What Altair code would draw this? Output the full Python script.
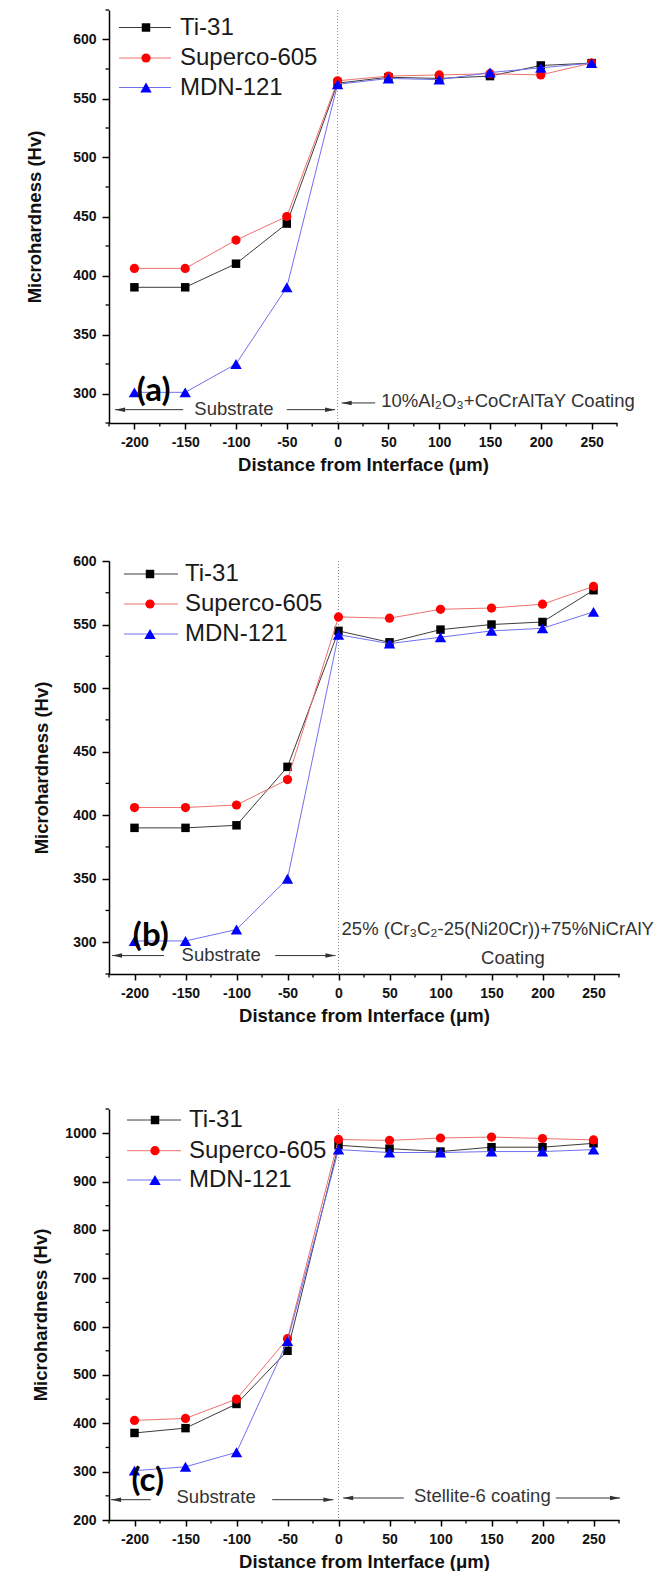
import altair as alt
import pandas as pd

# ---------------- data ----------------
distance = [-200, -150, -100, -50, 0, 50, 100, 150, 200, 250]
series_names = ["Ti-31", "Superco-605", "MDN-121"]

a_ti31 = [390, 390, 410, 444, 563, 568, 567, 569, 578, 580]
a_superco = [406, 406, 430, 450, 565, 569, 570, 571, 570, 580]
a_mdn = [301, 301, 325, 390, 562, 567, 566, 572, 576, 580]

b_ti31 = [390, 390, 392, 438, 545, 536, 546, 550, 552, 577]
b_superco = [406, 406, 408, 428, 556, 555, 562, 563, 566, 580]
b_mdn = [301, 301, 310, 350, 542, 535, 540, 545, 547, 560]

c_ti31 = [380, 390, 440, 550, 975, 968, 962, 971, 971, 979]
c_superco = [406, 410, 450, 575, 987, 985, 990, 992, 989, 986]
c_mdn = [302, 310, 340, 570, 966, 960, 960, 962, 962, 966]

x_major = [-200, -150, -100, -50, 0, 50, 100, 150, 200, 250]
x_minor = [-225, -175, -125, -75, -25, 25, 75, 125, 175, 225, 275]
a_y_major = [300, 350, 400, 450, 500, 550, 600]
a_y_minor = [275, 325, 375, 425, 475, 525, 575, 625]
b_y_major = [300, 350, 400, 450, 500, 550, 600]
b_y_minor = [275, 325, 375, 425, 475, 525, 575]
c_y_major = [200, 300, 400, 500, 600, 700, 800, 900, 1000]
c_y_minor = [250, 350, 450, 550, 650, 750, 850, 950, 1050]

# ---------------- styles ----------------
marker_colors = ["#000000", "#ff0000", "#0000ff"]
line_colors = ["#3c3c3c", "#f07070", "#7070f0"]
marker_shapes = ["square", "circle", "triangle-up"]
marker_sizes = [72, 85, 130]

FONT = "Liberation Sans"
ANN_COLOR = "#333333"
LEFT_ARROW = "M0,0L2,-0.45L2,0.45Z"
RIGHT_ARROW = "M0,0L-2,-0.45L-2,0.45Z"


def make_panel(series_vals, ydom, ymajor, yminor, W, H, L, T, B, ypad,
               legend, label, texts, arrows):
    xenc = alt.X("distance:Q",
                 scale=alt.Scale(domain=[-225, 275], nice=False, zero=False),
                 axis=alt.Axis(values=x_major, labelExpr="'' + datum.value",
                               title="Distance from Interface (μm)",
                               tickSize=6, labelPadding=6, titlePadding=6))
    yenc = alt.Y("value:Q",
                 scale=alt.Scale(domain=ydom, nice=False, zero=False),
                 axis=alt.Axis(values=ymajor, labelExpr="'' + datum.value",
                               title="Microhardness (Hv)",
                               tickSize=7, labelPadding=6, titlePadding=ypad))
    one = pd.DataFrame({"k": [0]})
    layers = []
    # invisible extent holder (controls panel placement)
    layers.append(alt.Chart(one).mark_rule(stroke="white", strokeWidth=1).encode(
        x=alt.value(-L), y=alt.value(-T), y2=alt.value(H + B)))
    # dotted interface line
    layers.append(alt.Chart(pd.DataFrame({"distance": [0]})).mark_rule(
        color="#8a8a8a", strokeWidth=1, strokeDash=[1, 2]).encode(
        x=xenc, y=alt.value(0), y2=alt.value(H)))
    # minor ticks
    layers.append(alt.Chart(pd.DataFrame({"value": yminor})).mark_rule(
        color="black", strokeWidth=1.3).encode(
        y=yenc, x=alt.value(-3.5), x2=alt.value(0)))
    layers.append(alt.Chart(pd.DataFrame({"distance": x_minor})).mark_rule(
        color="black", strokeWidth=1.3).encode(
        x=xenc, y=alt.value(H), y2=alt.value(H + 3.5)))
    # series
    for i, vals in enumerate(series_vals):
        df = pd.DataFrame({"distance": distance, "value": vals})
        layers.append(alt.Chart(df).mark_line(
            color=line_colors[i], strokeWidth=1).encode(x=xenc, y=yenc))
        layers.append(alt.Chart(df).mark_point(
            filled=True, opacity=1, shape=marker_shapes[i], size=marker_sizes[i],
            color=marker_colors[i]).encode(x=xenc, y=yenc))
    # legend (drawn inside plot)
    lx0, lx1, mx, tx, rows = legend
    for i, name in enumerate(series_names):
        ldf = pd.DataFrame({"series": [name]})
        layers.append(alt.Chart(ldf).mark_rule(
            color=line_colors[i], strokeWidth=1).encode(
            x=alt.value(lx0), x2=alt.value(lx1), y=alt.value(rows[i])))
        layers.append(alt.Chart(ldf).mark_point(
            filled=True, opacity=1, shape=marker_shapes[i], size=marker_sizes[i],
            color=marker_colors[i]).encode(x=alt.value(mx), y=alt.value(rows[i])))
        layers.append(alt.Chart(ldf).mark_text(
            align="left", baseline="middle", font=FONT, fontSize=24,
            color="#1a1a1a").encode(x=alt.value(tx), y=alt.value(rows[i]),
                                    text="series:N"))
    # arrows
    for (xf, xt, yv) in arrows:
        adf = pd.DataFrame({"distance": [xf], "d2": [xt], "value": [yv]})
        layers.append(alt.Chart(adf).mark_rule(color=ANN_COLOR, strokeWidth=1).encode(
            x=xenc, x2=alt.X2("d2:Q"), y=yenc))
        hdf = pd.DataFrame({"distance": [xt], "value": [yv]})
        layers.append(alt.Chart(hdf).mark_point(
            filled=True, opacity=1, size=100, color=ANN_COLOR,
            shape=LEFT_ARROW if xt < xf else RIGHT_ARROW).encode(x=xenc, y=yenc))
    # texts
    for (xv, yv, txt, align) in texts:
        tdf = pd.DataFrame({"distance": [xv], "value": [yv], "label": [txt]})
        layers.append(alt.Chart(tdf).mark_text(
            align=align, baseline="middle", font=FONT, fontSize=18.5,
            color=ANN_COLOR).encode(x=xenc, y=yenc, text="label:N"))
    # panel label
    lxv, lyv, ltxt = label
    ldf = pd.DataFrame({"distance": [lxv], "value": [lyv], "label": [ltxt]})
    layers.append(alt.Chart(ldf).mark_text(
        align="center", baseline="middle", font="Lato", fontSize=33,
        fontWeight="bold", color="black").encode(x=xenc, y=yenc, text="label:N"))
    return alt.layer(*layers).properties(width=W, height=H)


panel_a = make_panel(
    [a_ti31, a_superco, a_mdn], [275, 625], a_y_major, a_y_minor,
    W=508, H=413, L=86, T=1, B=116, ypad=28,
    legend=(10, 62, 37, 71, [17.5, 48, 77.5]),
    label=(-181, 302.5, "(a)"),
    texts=[(-102, 287, "Substrate", "center"),
           (43, 294, "10%Al₂O₃+CoCrAlTaY Coating", "left")],
    arrows=[(-152, -219, 286.3), (-50, -2.5, 286.3), (37, 4, 292)])

panel_b = make_panel(
    [b_ti31, b_superco, b_mdn], [275, 600], b_y_major, b_y_minor,
    W=510, H=413, L=100, T=20, B=113, ypad=21,
    legend=(15, 69, 41, 76, [13, 43, 73]),
    label=(-184, 305, "(b)"),
    texts=[(-115, 290, "Substrate", "center"),
           (3, 310.5, "25% (Cr₃C₂-25(Ni20Cr))+75%NiCrAlY", "left"),
           (171, 287.6, "Coating", "center")],
    arrows=[(-171, -222, 289.5), (-62, -3, 289.5)])

panel_c = make_panel(
    [c_ti31, c_superco, c_mdn], [200, 1050], c_y_major, c_y_minor,
    W=510, H=411, L=100, T=20, B=48, ypad=14,
    legend=(18, 72, 46, 80, [11, 41.7, 71]),
    label=(-187, 280, "(c)"),
    texts=[(-120, 246.8, "Substrate", "center"),
           (141, 248.9, "Stellite-6 coating", "center")],
    arrows=[(-184, -223, 242), (-65, -5, 242), (64, 4.6, 245.5), (213, 276, 245.5)])

chart = alt.vconcat(panel_a, panel_b, panel_c, spacing=0).properties(
    padding=0
).configure_view(stroke=None).configure_axis(
    labelFont=FONT, labelFontSize=14, labelFontWeight="bold", labelColor="#111111",
    titleFont=FONT, titleFontSize=18.5, titleFontWeight="bold", titleColor="#111111",
    domainColor="black", domainWidth=1.5, tickColor="black", tickWidth=1.5,
    grid=False, labelFlush=False, labelOverlap=False
)

chart.save("out.html", embed_options={"renderer": "svg", "actions": False})
